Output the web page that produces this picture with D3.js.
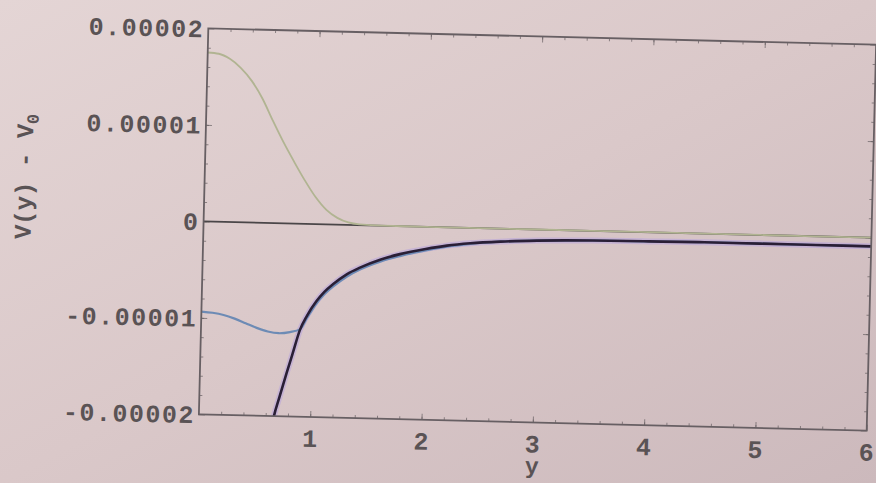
<!DOCTYPE html>
<html>
<head>
<meta charset="utf-8">
<script src="https://cdn.jsdelivr.net/npm/d3@7"></script>
<style>
  html, body { margin: 0; padding: 0; background: #d9c7c9; }
  svg { display: block; }
</style>
</head>
<body>
<svg id="chart" width="876" height="483"></svg>
<script>
// ---- data ----
const xTickValues = [1, 2, 3, 4, 5, 6];
const xTickLabels = ["1", "2", "3", "4", "5", "6"];
const yTickValues = [-0.00002, -0.00001, 0, 0.00001, 0.00002];
const yTickLabels = ["-0.00002", "-0.00001", "0", "0.00001", "0.00002"];

const greenX = [0, 0.1, 0.2, 0.3, 0.4, 0.5, 0.6, 0.7, 0.8, 0.9, 1.0, 1.1, 1.2, 1.3, 1.4, 1.6, 2, 3, 4, 5, 6];
const greenY = [1.75e-5, 1.74e-5, 1.69e-5, 1.60e-5, 1.47e-5, 1.29e-5, 1.06e-5, 0.84e-5, 0.64e-5, 0.45e-5,
                0.28e-5, 0.15e-5, 0.07e-5, 0.025e-5, 0.008e-5, 0, 0, 0, 0, 0, 0];

const blueX = [0, 0.1, 0.2, 0.3, 0.4, 0.5, 0.6, 0.7, 0.8, 0.889, 0.95, 1.03, 1.1, 1.175, 1.3, 1.414, 1.6,
               1.77, 2.0, 2.19, 2.4, 2.67, 3.0, 3.5, 4, 4.5, 5, 5.5, 6];
const blueY = [-0.935e-5, -0.945e-5, -0.965e-5, -1.0e-5, -1.045e-5, -1.09e-5, -1.125e-5, -1.14e-5, -1.125e-5,
               -1.095e-5, -0.975e-5, -0.825e-5, -0.725e-5, -0.645e-5, -0.535e-5, -0.46e-5, -0.37e-5,
               -0.31e-5, -0.245e-5, -0.2e-5, -0.165e-5, -0.135e-5, -0.115e-5, -0.10e-5, -0.095e-5,
               -0.09e-5, -0.09e-5, -0.09e-5, -0.09e-5];

const blackX = [0.66, 0.674, 0.72, 0.779, 0.83, 0.889, 0.95, 1.03, 1.1, 1.175, 1.3, 1.414, 1.6, 1.77, 2.0,
                2.19, 2.4, 2.67, 3.0, 3.5, 4, 4.5, 5, 5.5, 6];
const blackY = [-2.08e-5, -2.0e-5, -1.80e-5, -1.55e-5, -1.34e-5, -1.10e-5, -0.95e-5, -0.80e-5, -0.70e-5,
                -0.62e-5, -0.51e-5, -0.44e-5, -0.35e-5, -0.29e-5, -0.23e-5, -0.19e-5, -0.16e-5,
                -0.135e-5, -0.115e-5, -0.10e-5, -0.095e-5, -0.09e-5, -0.09e-5, -0.09e-5, -0.09e-5];

const xTitle = "y";

// ---- layout ----
const W = 876, H = 483;
const pLeft = 203.5, pRight = 871.5, pTop = 36.5, pBottom = 422.5;
const tilt = 1.4, cx = 537.5, cy = 229.5;
const fontFamily = "'Liberation Mono', 'DejaVu Sans Mono', monospace";
const textColor = "#5a5355";
const frameColor = "#675f63";

const svg = d3.select("#chart");
const defs = svg.append("defs");

const bg = defs.append("linearGradient").attr("id", "bg")
  .attr("x1", "0").attr("y1", "0").attr("x2", "1").attr("y2", "1");
bg.append("stop").attr("offset", "0").attr("stop-color", "#e4d5d5");
bg.append("stop").attr("offset", "0.5").attr("stop-color", "#dac8c9");
bg.append("stop").attr("offset", "1").attr("stop-color", "#ccb9bc");

svg.append("rect").attr("width", W).attr("height", H).attr("fill", "url(#bg)");

defs.append("clipPath").attr("id", "plotclip")
  .append("rect").attr("x", pLeft).attr("y", pTop)
  .attr("width", pRight - pLeft).attr("height", pBottom - pTop);

const g = svg.append("g").attr("transform", `rotate(${tilt},${cx},${cy})`);

const x = d3.scaleLinear().domain([0, 6]).range([pLeft, pRight]);
const y = d3.scaleLinear().domain([-0.00002, 0.00002]).range([pBottom, pTop]);

const minorX = d3.range(0, 6.0001, 0.2).filter(v => v > 0.001 && v < 5.999);
const minorY = d3.range(-0.00002, 0.0000200001, 0.000002).filter(v => Math.abs(v) < 0.0000199);

function tickAxis(axisFn, scale, vals, len, transform) {
  const a = axisFn(scale).tickValues(vals).tickSize(len).tickFormat("");
  const gg = g.append("g").attr("transform", transform).call(a);
  gg.select(".domain").remove();
  gg.selectAll("line").attr("stroke", frameColor).attr("stroke-width", 1).attr("stroke-opacity", 0.7);
}
tickAxis(d3.axisTop, x, xTickValues, 6, `translate(0,${pBottom})`);
tickAxis(d3.axisTop, x, minorX, 3, `translate(0,${pBottom})`);
tickAxis(d3.axisBottom, x, xTickValues, 6, `translate(0,${pTop})`);
tickAxis(d3.axisBottom, x, minorX, 3, `translate(0,${pTop})`);
tickAxis(d3.axisRight, y, yTickValues, 6, `translate(${pLeft},0)`);
tickAxis(d3.axisRight, y, minorY, 3, `translate(${pLeft},0)`);
tickAxis(d3.axisLeft, y, yTickValues, 6, `translate(${pRight},0)`);
tickAxis(d3.axisLeft, y, minorY, 3, `translate(${pRight},0)`);

// zero axis line
g.append("line")
  .attr("x1", pLeft).attr("x2", pRight)
  .attr("y1", y(0)).attr("y2", y(0))
  .attr("stroke", "#4a4648").attr("stroke-width", 1.8);

// curves
const plot = g.append("g").attr("clip-path", "url(#plotclip)");
const line = d3.line().x(d => x(d[0])).y(d => y(d[1])).curve(d3.curveMonotoneX);

const greenData = d3.zip(greenX, greenY);
const blueData = d3.zip(blueX, blueY);
const blackData = d3.zip(blackX, blackY);

plot.append("path").datum(greenData).attr("d", line)
  .attr("fill", "none").attr("stroke", "#b1b492").attr("stroke-width", 1.8);

plot.append("path").datum(blackData).attr("d", line)
  .attr("fill", "none").attr("stroke", "#b7a2dc").attr("stroke-width", 6).attr("stroke-opacity", 0.55);

plot.append("path").datum(blueData).attr("d", line)
  .attr("fill", "none").attr("stroke", "#6d8bb5").attr("stroke-width", 2.2);

plot.append("path").datum(blackData).attr("d", line)
  .attr("fill", "none").attr("stroke", "#2a1f36").attr("stroke-width", 2.6);

// frame
g.append("rect")
  .attr("x", pLeft).attr("y", pTop)
  .attr("width", pRight - pLeft).attr("height", pBottom - pTop)
  .attr("fill", "none").attr("stroke", frameColor).attr("stroke-width", 1.8);

// tick labels
const fs = 25;
g.append("g").selectAll("text").data(yTickValues).join("text")
  .attr("x", pLeft - 4)
  .attr("y", d => y(d))
  .attr("dy", "0.36em")
  .attr("text-anchor", "end")
  .attr("font-family", fontFamily)
  .attr("font-size", fs)
  .attr("font-weight", "bold")
  .attr("letter-spacing", 1.5)
  .attr("fill", textColor)
  .text((d, i) => yTickLabels[i]);

g.append("g").selectAll("text").data(xTickValues).join("text")
  .attr("x", d => x(d))
  .attr("y", pBottom + 21)
  .attr("dy", "0.36em")
  .attr("text-anchor", "middle")
  .attr("font-family", fontFamily)
  .attr("font-size", fs)
  .attr("font-weight", "bold")
  .attr("fill", textColor)
  .text((d, i) => xTickLabels[i]);

// axis titles
g.append("text")
  .attr("x", x(3))
  .attr("y", pBottom + 44)
  .attr("dy", "0.3em")
  .attr("text-anchor", "middle")
  .attr("font-family", fontFamily)
  .attr("font-size", fs - 2)
  .attr("font-weight", "bold")
  .attr("fill", textColor)
  .text(xTitle);

const yt = g.append("text")
  .attr("transform", `translate(${31},${189}) rotate(-90)`)
  .attr("text-anchor", "middle")
  .attr("font-family", fontFamily)
  .attr("font-size", fs - 1)
  .attr("font-weight", "bold")
  .attr("fill", textColor);
yt.append("tspan").text("V(y) - V");
yt.append("tspan").attr("font-size", fs - 8).attr("dy", "0.3em").text("0");
</script>
</body>
</html>
